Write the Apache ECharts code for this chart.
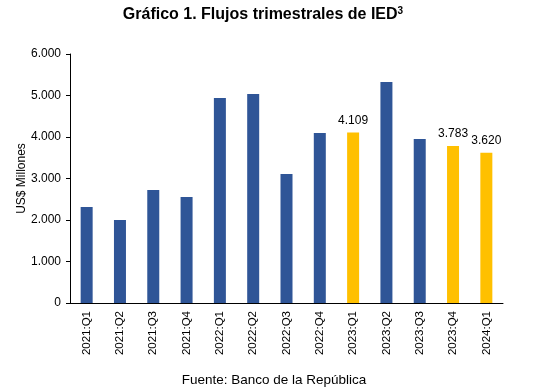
<!DOCTYPE html>
<html>
<head>
<meta charset="utf-8">
<script src="https://cdn.jsdelivr.net/npm/echarts@6/dist/echarts.min.js"></script>
<style>
html,body{margin:0;padding:0;background:#fff;}
#c{width:548px;height:391px;}
</style>
</head>
<body>
<div id="c"></div>
<script>
var categories = ["2021:Q1","2021:Q2","2021:Q3","2021:Q4","2022:Q1","2022:Q2","2022:Q3","2022:Q4","2023:Q1","2023:Q2","2023:Q3","2023:Q4","2024:Q1"];
var values = [2313, 2000, 2723, 2554, 4940, 5036, 3108, 4096, 4109, 5325, 3952, 3783, 3620];
var highlighted = [false,false,false,false,false,false,false,false,true,false,false,true,true];
var yTicks = [0, 1000, 2000, 3000, 4000, 5000, 6000];

function fmt(v){ return String(v).replace(/\B(?=(\d{3})+(?!\d))/g, "."); }

var chart = echarts.init(document.getElementById('c'), null, {renderer:'canvas'});
var font = "'Liberation Sans', Arial, sans-serif";
chart.setOption({
  animation:false,
  backgroundColor:'#ffffff',
  title:[{
    text:'Gráfico 1. Flujos trimestrales de IED{s|3}',
    left:258, top:1, textAlign:'center',
    textStyle:{fontFamily:font, fontSize:16, fontWeight:'bold', color:'#000',
      rich:{s:{fontFamily:font, fontSize:10, color:'#000', verticalAlign:'top', padding:[0,0,8,0]}}}
  },{
    text:'Fuente: Banco de la República',
    left:269, top:368, textAlign:'center',
    textStyle:{fontFamily:font, fontSize:13.5, fontWeight:'normal', color:'#000'}
  }],
  grid:{left:70, right:45, top:54, bottom:88, containLabel:false},
  xAxis:{
    type:'category', data:categories,
    axisLine:{lineStyle:{color:'#000', width:1}},
    axisTick:{show:false},
    axisLabel:{rotate:90, fontFamily:font, fontSize:11.5, color:'#000', margin:8}
  },
  yAxis:{
    type:'value', min:yTicks[0], max:yTicks[yTicks.length-1], interval:1000,
    name:'US$ Millones', nameLocation:'middle', nameGap:42, nameRotate:90,
    nameMoveOverlap:false,
    nameTextStyle:{fontFamily:font, fontSize:12, color:'#000'},
    axisLine:{show:true, lineStyle:{color:'#000', width:1}},
    axisTick:{show:true, inside:false, length:4, lineStyle:{color:'#000'}},
    splitLine:{show:false},
    axisLabel:{fontFamily:font, fontSize:12, color:'#000', margin:9, formatter:function(v){return fmt(v);}}
  },
  series:[{
    type:'bar', barWidth:12,
    data:values.map(function(v,i){
      return {
        value:v,
        itemStyle:{color: highlighted[i] ? '#FFC000' : '#2F5597'},
        label:{show: highlighted[i], position:'top', distance:6, formatter:function(p){return fmt(p.value);},
          fontFamily:font, fontSize:12, color:'#000'}
      };
    })
  }]
});
</script>
</body>
</html>
